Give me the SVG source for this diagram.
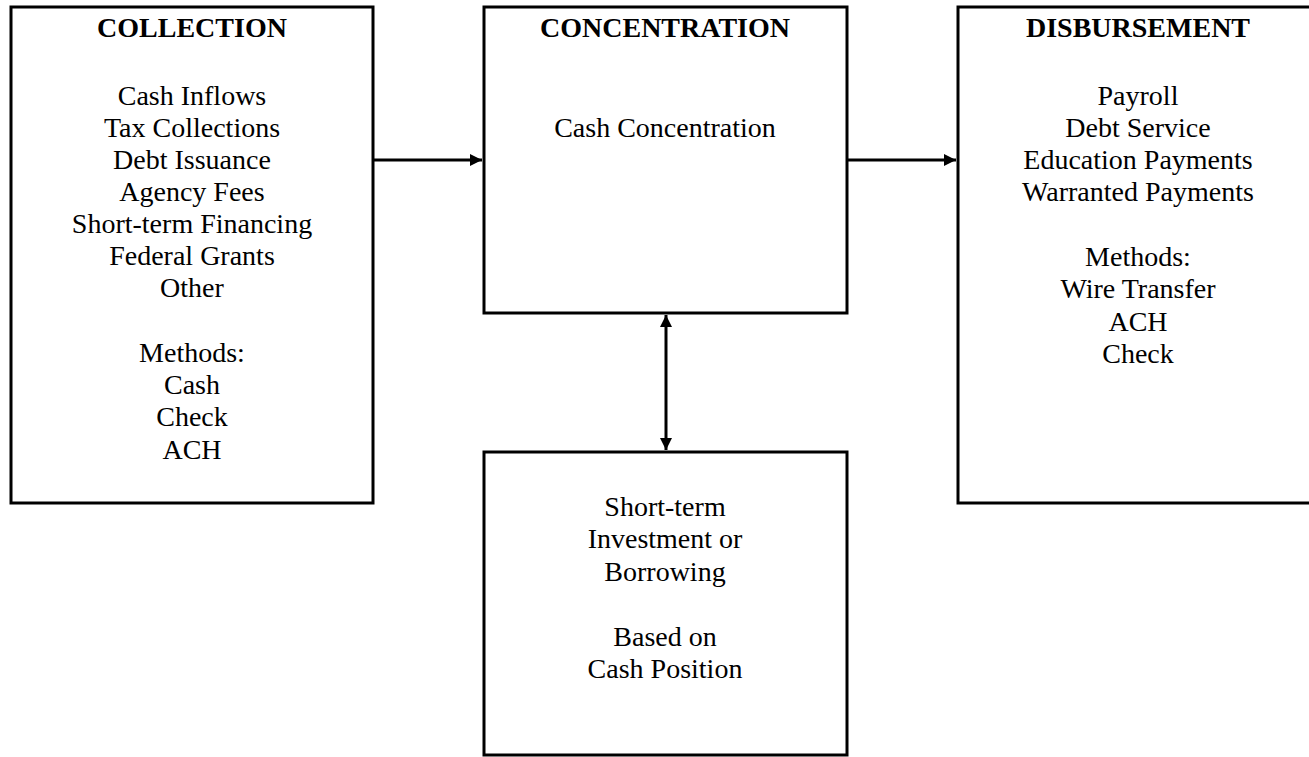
<svg xmlns="http://www.w3.org/2000/svg" width="1309" height="757" viewBox="0 0 1309 757">
<defs>
<style>
.box{fill:#fff;stroke:#000;stroke-width:3}
.t{font-family:"Liberation Serif","Times New Roman",serif;font-size:28px;fill:#000;text-anchor:middle}
.h{font-weight:bold}
.c{stroke:#000;stroke-width:3;fill:none}
</style>
<marker id="ah" viewBox="0 0 10 10" refX="10" refY="5" markerWidth="4.5" markerHeight="4" orient="auto-start-reverse" markerUnits="strokeWidth">
<path d="M0,0 L10,5 L0,10 z" fill="#000"/>
</marker>
</defs>
<rect width="1309" height="757" fill="#fff"/>
<g id="collection">
<rect class="box" x="11" y="7" width="362" height="496"/>
<text class="t h" x="192" y="37">COLLECTION</text>
<text class="t" x="192" y="105">Cash Inflows</text>
<text class="t" x="192" y="137">Tax Collections</text>
<text class="t" x="192" y="169">Debt Issuance</text>
<text class="t" x="192" y="201">Agency Fees</text>
<text class="t" x="192" y="233">Short-term Financing</text>
<text class="t" x="192" y="265">Federal Grants</text>
<text class="t" x="192" y="297">Other</text>
<text class="t" x="192" y="362">Methods:</text>
<text class="t" x="192" y="394">Cash</text>
<text class="t" x="192" y="426">Check</text>
<text class="t" x="192" y="459">ACH</text>
</g>
<g id="concentration">
<rect class="box" x="484" y="7" width="363" height="306"/>
<text class="t h" x="665" y="37">CONCENTRATION</text>
<text class="t" x="665" y="137">Cash Concentration</text>
</g>
<g id="disbursement">
<rect class="box" x="958" y="7" width="362" height="496"/>
<text class="t h" x="1138" y="37">DISBURSEMENT</text>
<text class="t" x="1138" y="105">Payroll</text>
<text class="t" x="1138" y="137">Debt Service</text>
<text class="t" x="1138" y="169">Education Payments</text>
<text class="t" x="1138" y="201">Warranted Payments</text>
<text class="t" x="1138" y="266">Methods:</text>
<text class="t" x="1138" y="298">Wire Transfer</text>
<text class="t" x="1138" y="331">ACH</text>
<text class="t" x="1138" y="363">Check</text>
</g>
<g id="investment">
<rect class="box" x="484" y="452" width="363" height="303"/>
<text class="t" x="665" y="516">Short-term</text>
<text class="t" x="665" y="548">Investment or</text>
<text class="t" x="665" y="581">Borrowing</text>
<text class="t" x="665" y="646">Based on</text>
<text class="t" x="665" y="678">Cash Position</text>
</g>
<g id="connectors">
<line class="c" x1="373" y1="160" x2="482" y2="160" marker-end="url(#ah)"/>
<line class="c" x1="847" y1="160" x2="956" y2="160" marker-end="url(#ah)"/>
<line class="c" x1="666" y1="315" x2="666" y2="450" marker-start="url(#ah)" marker-end="url(#ah)"/>
</g>
</svg>
